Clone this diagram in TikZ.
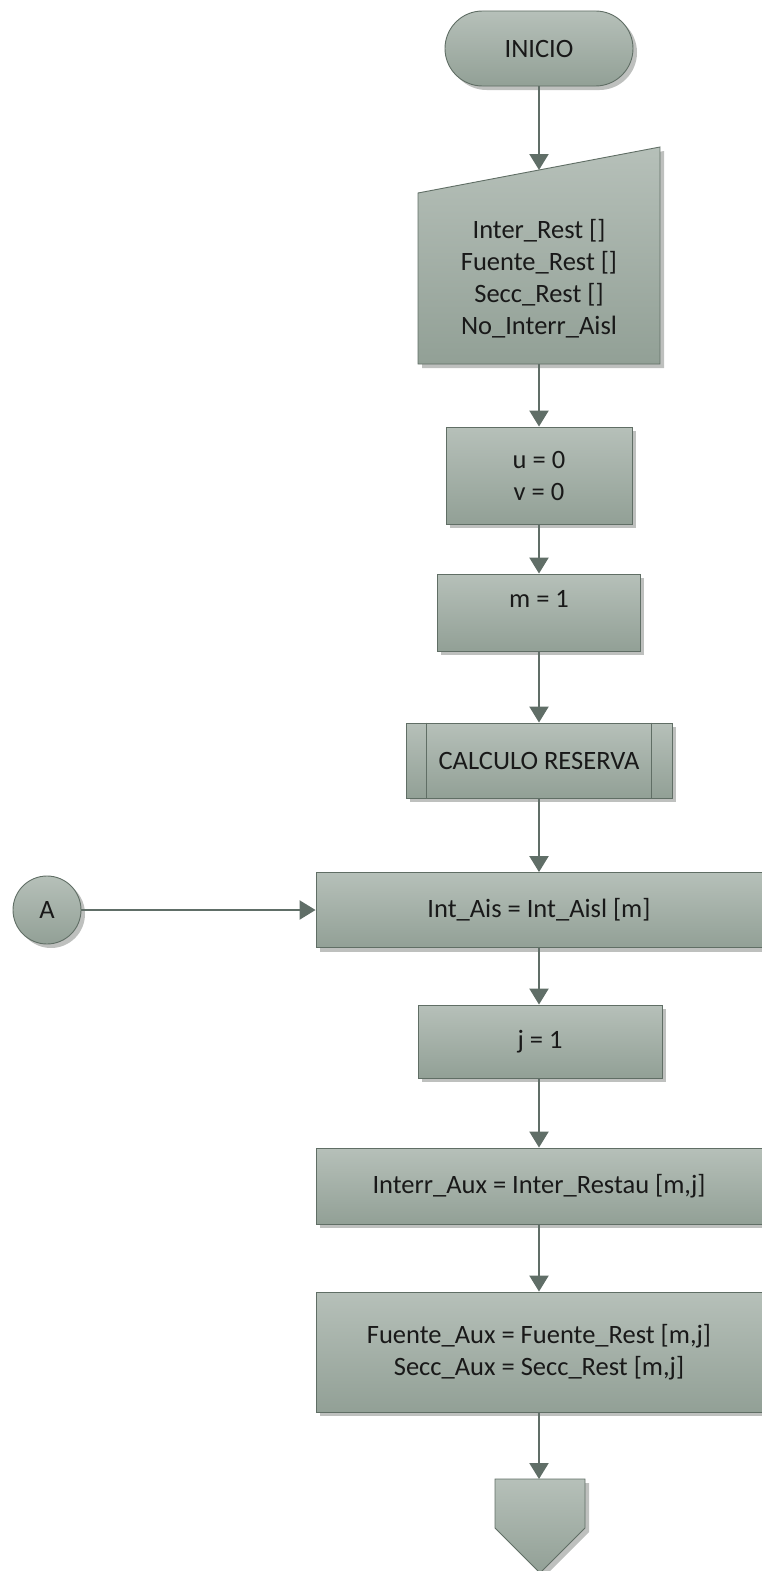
\documentclass[tikz,border=0pt]{standalone}
\usepackage{fontspec}
\setmainfont{Carlito}
\usetikzlibrary{shadows,arrows.meta}
\definecolor{topc}{RGB}{182,192,185}
\definecolor{botc}{RGB}{146,160,150}
\definecolor{bordc}{RGB}{96,110,101}
\definecolor{arrc}{RGB}{96,110,103}
\definecolor{shadc}{RGB}{190,192,190}
\tikzset{
  shade/.style={draw=bordc, line width=0.9pt, top color=topc, bottom color=botc,
    drop shadow={shadow xshift=4pt, shadow yshift=-4pt, fill=shadc, opacity=1}},
  box/.style={shade, rectangle, inner sep=0pt, align=center, text=black!90,
    font=\fontsize{26.5}{32}\selectfont},
  flow/.style={draw=arrc, line width=2.2pt, -{Triangle[length=16pt,width=19pt]}},
  txt/.style={align=center, text=black!90, font=\fontsize{26.5}{32}\selectfont}
}
\begin{document}
\begin{tikzpicture}[x=1pt,y=-1pt]
\useasboundingbox (0,0) rectangle (762,1571);

% start terminal
\node[box, minimum width=188pt, minimum height=75pt, rounded corners=37.5pt] (inicio) at (539,48.5) {INICIO};

% manual input
\path[shade] (418,193) -- (660,147) -- (660,364) -- (418,364) -- cycle;
\node[txt] (entrada) at (539,279) {Inter\_Rest []\\Fuente\_Rest []\\Secc\_Rest []\\No\_Interr\_Aisl};
\coordinate (entradatop) at (539,170);
\coordinate (entradabot) at (539,364);

% process boxes
\node[box, minimum width=186pt, minimum height=97pt] (uv) at (539,475.5) {u = 0\\v = 0};
\node[box, minimum width=203pt, minimum height=77pt] (m1) at (538.5,612.5) {};
\node[txt] at (539,599) {m = 1};

% predefined process
\node[box, minimum width=266pt, minimum height=75pt] (calc) at (539,760.5) {CALCULO RESERVA};
\draw[draw=bordc, line width=0.9pt] ([xshift=21pt]calc.north west) -- ([xshift=21pt]calc.south west)
  ([xshift=-21pt]calc.north east) -- ([xshift=-21pt]calc.south east);

\node[box, minimum width=446pt, minimum height=75pt] (ia) at (539,910) {Int\_Ais = Int\_Aisl [m]};
\node[box, shape=circle, minimum size=68pt] (A) at (47,910) {A};

\node[box, minimum width=244pt, minimum height=73pt] (j1) at (540,1041.5) {j = 1};
\node[box, minimum width=446pt, minimum height=76pt] (iaux) at (539,1186) {Interr\_Aux = Inter\_Restau [m,j]};
\node[box, minimum width=446pt, minimum height=120pt] (faux) at (539,1352) {Fuente\_Aux = Fuente\_Rest [m,j]\\Secc\_Aux = Secc\_Rest [m,j]};

% off-page connector
\path[shade] (495,1479) -- (585,1479) -- (585,1528) -- (540,1573) -- (495,1528) -- cycle;
\coordinate (offtop) at (540,1479);

% connectors
\draw[flow] (inicio.south) -- (entradatop);
\draw[flow] (entradabot) -- (uv.north);
\draw[flow] (uv.south) -- (m1.north -| uv.south);
\draw[flow] (m1.south -| uv.south) -- (calc.north);
\draw[flow] (calc.south) -- (ia.north);
\draw[flow] (A.east) -- (ia.west);
\draw[flow] (ia.south) -- (j1.north -| ia.south);
\draw[flow] (j1.south -| ia.south) -- (iaux.north);
\draw[flow] (iaux.south) -- (faux.north);
\draw[flow] (faux.south) -- (offtop -| faux.south);
\end{tikzpicture}
\end{document}
